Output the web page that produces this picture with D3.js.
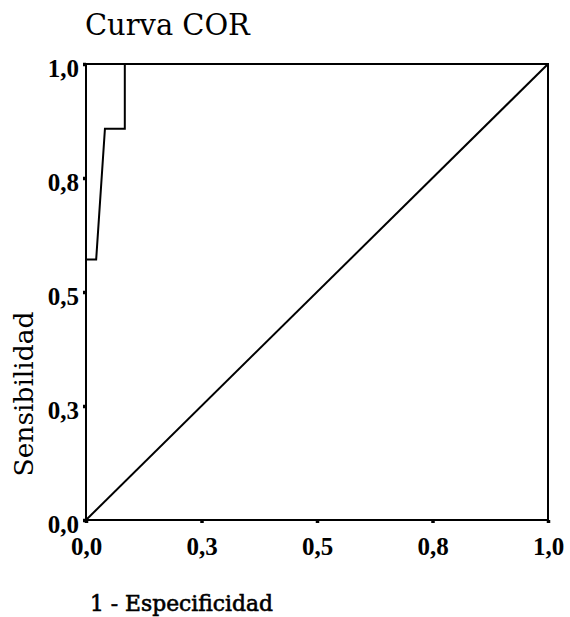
<!DOCTYPE html>
<html>
<head>
<meta charset="utf-8">
<script src="https://cdn.jsdelivr.net/npm/d3@7"></script>
<style>
  body { margin: 0; background: #fff; }
</style>
</head>
<body>
<div id="chart"></div>
<script>
// ROC curve points (1 - especificidad, sensibilidad)
const rocX = [0, 0, 0.022, 0.041, 0.084, 0.084, 1];
const rocY = [0, 0.571, 0.571, 0.858, 0.858, 1, 1];
// reference diagonal
const refX = [0, 1];
const refY = [0, 1];
// ticks and their labels
const tickValues = [0, 0.25, 0.5, 0.75, 1];
const tickLabels = ["0,0", "0,3", "0,5", "0,8", "1,0"];

const W = 570, H = 617;
const margin = { top: 64, right: 22, bottom: 97, left: 86 };
const width = W - margin.left - margin.right;
const height = H - margin.top - margin.bottom;

const serif = "'DejaVu Serif', serif";
const tickFont = "'Liberation Serif', serif";

// scale the font so the text spans the wanted width
function fitWidth(sel, target) {
    const size = parseFloat(sel.attr("font-size"));
    const len = sel.node().getComputedTextLength();
    sel.attr("font-size", size * target / len);
}

const svg = d3.select("#chart").append("svg")
    .attr("width", W)
    .attr("height", H);

const g = svg.append("g")
    .attr("transform", `translate(${margin.left},${margin.top})`);

const x = d3.scaleLinear().domain([0, 1]).range([0, width]);
const y = d3.scaleLinear().domain([0, 1]).range([height, 0]);

// frame
g.append("rect")
    .attr("x", x(0)).attr("y", y(1))
    .attr("width", x(1) - x(0)).attr("height", y(0) - y(1))
    .attr("fill", "none")
    .attr("stroke", "#000")
    .attr("stroke-width", 2);

// axes
const xAxis = g.append("g")
    .attr("transform", `translate(0,${height})`)
    .call(d3.axisBottom(x).tickValues(tickValues)
        .tickFormat((d, i) => tickLabels[i]).tickSize(3).tickPadding(14));
const yAxis = g.append("g")
    .call(d3.axisLeft(y).tickValues(tickValues)
        .tickFormat((d, i) => tickLabels[i]).tickSize(3).tickPadding(4));

[xAxis, yAxis].forEach(a => {
    a.attr("font-family", tickFont).attr("font-size", 25);
    a.select(".domain").remove();
    a.selectAll(".tick line").attr("stroke", "#000").attr("stroke-width", 3.5);
    a.selectAll(".tick text")
        .attr("fill", "#000")
        .attr("font-weight", "bold");
});
yAxis.selectAll(".tick text").attr("dy", "0.5em");

// diagonal
const line = d3.line()
    .x(d => x(d[0]))
    .y(d => y(d[1]));

g.append("path")
    .datum(refX.map((v, i) => [v, refY[i]]))
    .attr("fill", "none")
    .attr("stroke", "#000")
    .attr("stroke-width", 2)
    .attr("d", line);

// ROC curve
g.append("path")
    .datum(rocX.map((v, i) => [v, rocY[i]]))
    .attr("fill", "none")
    .attr("stroke", "#000")
    .attr("stroke-width", 2)
    .attr("d", line);

// title
const title = svg.append("text")
    .attr("x", 85)
    .attr("y", 35)
    .attr("font-family", serif)
    .attr("font-size", 28)
    .text("Curva COR");
fitWidth(title, 165);

// y label
const yLabel = svg.append("text")
    .attr("transform", "translate(33,394) rotate(-90)")
    .attr("text-anchor", "middle")
    .attr("font-family", serif)
    .attr("font-size", 22)
    .text("Sensibilidad");
fitWidth(yLabel, 165);

// x label
const xLabel = svg.append("text")
    .attr("x", 90)
    .attr("y", 611)
    .attr("font-family", serif)
    .attr("font-size", 22)
    .attr("stroke", "#000")
    .attr("stroke-width", 0.6)
    .text("1 - Especificidad");
fitWidth(xLabel, 183);
</script>
</body>
</html>
